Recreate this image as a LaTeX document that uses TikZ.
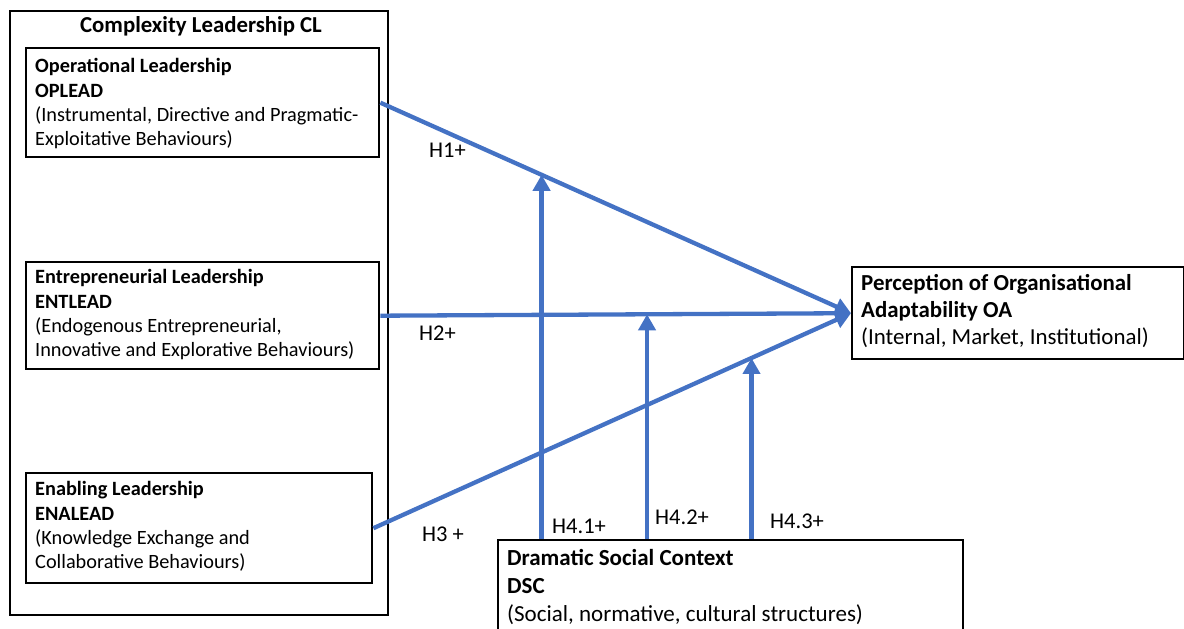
\documentclass[tikz,border=0pt]{standalone}
\usepackage{fontspec}
\setmainfont{Carlito}
\usetikzlibrary{arrows.meta,calc}
\definecolor{lineblue}{RGB}{68,114,196}
\tikzset{
  box/.style={draw=black, line width=2.4pt, anchor=north west, inner sep=0pt},
  txt/.style={anchor=north west, align=left, inner sep=0pt, font=\fontsize{20.3}{24.3}\selectfont},
  lbl/.style={anchor=base west, inner sep=0pt, font=\fontsize{22.5}{24}\selectfont},
  arr/.style={draw=lineblue, line width=4.3pt, -{Triangle[length=16pt,width=17pt]}}
}
\begin{document}
\begin{tikzpicture}[x=1pt,y=-1pt]
\useasboundingbox (0,0) rectangle (1184,629);
\clip (0,0) rectangle (1184,629);
% boxes
\node[box, minimum width=378pt, minimum height=604pt] (cl) at (9,10) {};
\node[box, minimum width=353pt, minimum height=109pt] (op) at (25,47) {};
\node[box, minimum width=353pt, minimum height=107pt] (ent) at (25,261) {};
\node[box, minimum width=346pt, minimum height=110pt] (ena) at (25,472) {};
\node[box, minimum width=332pt, minimum height=92pt] (oa) at (851,266) {};
\node[box, minimum width=465pt, minimum height=110pt] (dsc) at (497,539) {};
% texts
\node[anchor=base, inner sep=0pt, font=\fontsize{22.8}{24}\selectfont\bfseries] (cltitle) at (201,32) {Complexity Leadership CL};
\node[txt] (optext) at (35,58.5) {\textbf{Operational Leadership}\\\textbf{OPLEAD}\\(Instrumental, Directive and Pragmatic-\\Exploitative Behaviours)};
\node[txt] (enttext) at (35,269.5) {\textbf{Entrepreneurial Leadership}\\\textbf{ENTLEAD}\\(Endogenous Entrepreneurial,\\Innovative and Explorative Behaviours)};
\node[txt] (enatext) at (35,481.5) {\textbf{Enabling Leadership}\\\textbf{ENALEAD}\\(Knowledge Exchange and\\Collaborative Behaviours)};
\node[txt, font=\fontsize{22.9}{26.8}\selectfont] (oatext) at (861,274.5) {\textbf{Perception of Organisational}\\\textbf{Adaptability OA}\\(Internal, Market, Institutional)};
\node[txt, font=\fontsize{23}{28}\selectfont] (dsctext) at (507,549.5) {\textbf{Dramatic Social Context}\\\textbf{DSC}\\(Social, normative, cultural structures)};
% main arrows
\draw[arr] (op.east) -- (oa.west);
\draw[arr] (ent.east) -- (oa.west);
\draw[arr] (ena.east) -- (oa.west);
% moderation arrows
\coordinate (m1) at ($(op.east)!0.3425!(oa.west)$);
\coordinate (m2) at ($(ent.east)!0.5666!(oa.west)$);
\coordinate (m3) at ($(ena.east)!0.7917!(oa.west)$);
\draw[arr] (dsc.north -| m1) -- (m1);
\draw[arr] (dsc.north -| m2) -- (m2);
\draw[arr] (dsc.north -| m3) -- (m3);
% labels
\node[lbl] (h1) at (429,157) {H1+};
\node[lbl] (h2) at (419,340) {H2+};
\node[lbl] (h3) at (422,541) {H3 +};
\node[lbl] (h41) at (552,533) {H4.1+};
\node[lbl] (h42) at (655,524) {H4.2+};
\node[lbl] (h43) at (770,528) {H4.3+};
\end{tikzpicture}
\end{document}
